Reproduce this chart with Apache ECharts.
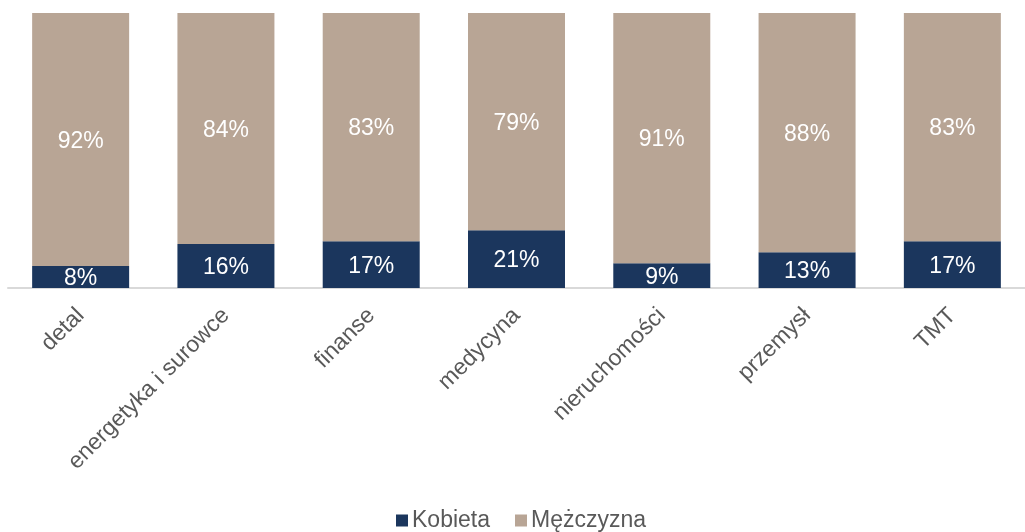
<!DOCTYPE html>
<html>
<head>
<meta charset="utf-8">
<script src="https://cdn.jsdelivr.net/npm/echarts@6/dist/echarts.min.js"></script>
<style>
  html, body { margin: 0; padding: 0; background: #fff; }
  #chart { width: 1025px; height: 532px; }
</style>
</head>
<body>
<div id="chart"></div>
<script>
// dane
var categories = ['detal', 'energetyka i surowce', 'finanse', 'medycyna', 'nieruchomości', 'przemysł', 'TMT'];
var kobieta = [8, 16, 17, 21, 9, 13, 17];
var mezczyzna = [92, 84, 83, 79, 91, 88, 83];

var myChart = echarts.init(document.getElementById('chart'));

var labelStyle = {
    show: true,
    position: 'inside',
    offset: [0, 2],
    color: '#ffffff',
    fontSize: 23,
    fontFamily: 'Liberation Sans, Arial, sans-serif',
    formatter: '{c}%'
};

var option = {
    animation: false,
    grid: {
        left: 8,
        width: 1022,
        top: 13,
        height: 275
    },
    legend: {
        data: ['Kobieta', 'Mężczyzna'],
        left: 391,
        top: 504,
        itemWidth: 12,
        itemHeight: 12,
        itemGap: 25,
        icon: 'rect',
        textStyle: {
            color: '#595959',
            fontSize: 23,
            fontFamily: 'Liberation Sans, Arial, sans-serif',
            padding: [0, 0, 0, -1]
        }
    },
    xAxis: {
        type: 'category',
        data: categories,
        axisLine: { lineStyle: { color: '#d9d9d9', width: 2 } },
        axisTick: { show: false },
        axisLabel: {
            rotate: 45,
            interval: 0,
            margin: 24,
            color: '#595959',
            fontSize: 23,
            fontFamily: 'Liberation Sans, Arial, sans-serif'
        }
    },
    yAxis: {
        type: 'value',
        min: 0,
        max: 100,
        show: false,
        splitLine: { show: false }
    },
    series: [{
        name: 'Kobieta',
        type: 'bar',
        stack: 'all',
        barWidth: 97,
        itemStyle: { color: '#1b365d' },
        label: labelStyle,
        data: kobieta
    }, {
        name: 'Mężczyzna',
        type: 'bar',
        stack: 'all',
        barWidth: 97,
        itemStyle: { color: '#b8a595' },
        label: labelStyle,
        data: mezczyzna
    }]
};
myChart.setOption(option);
</script>
</body>
</html>
